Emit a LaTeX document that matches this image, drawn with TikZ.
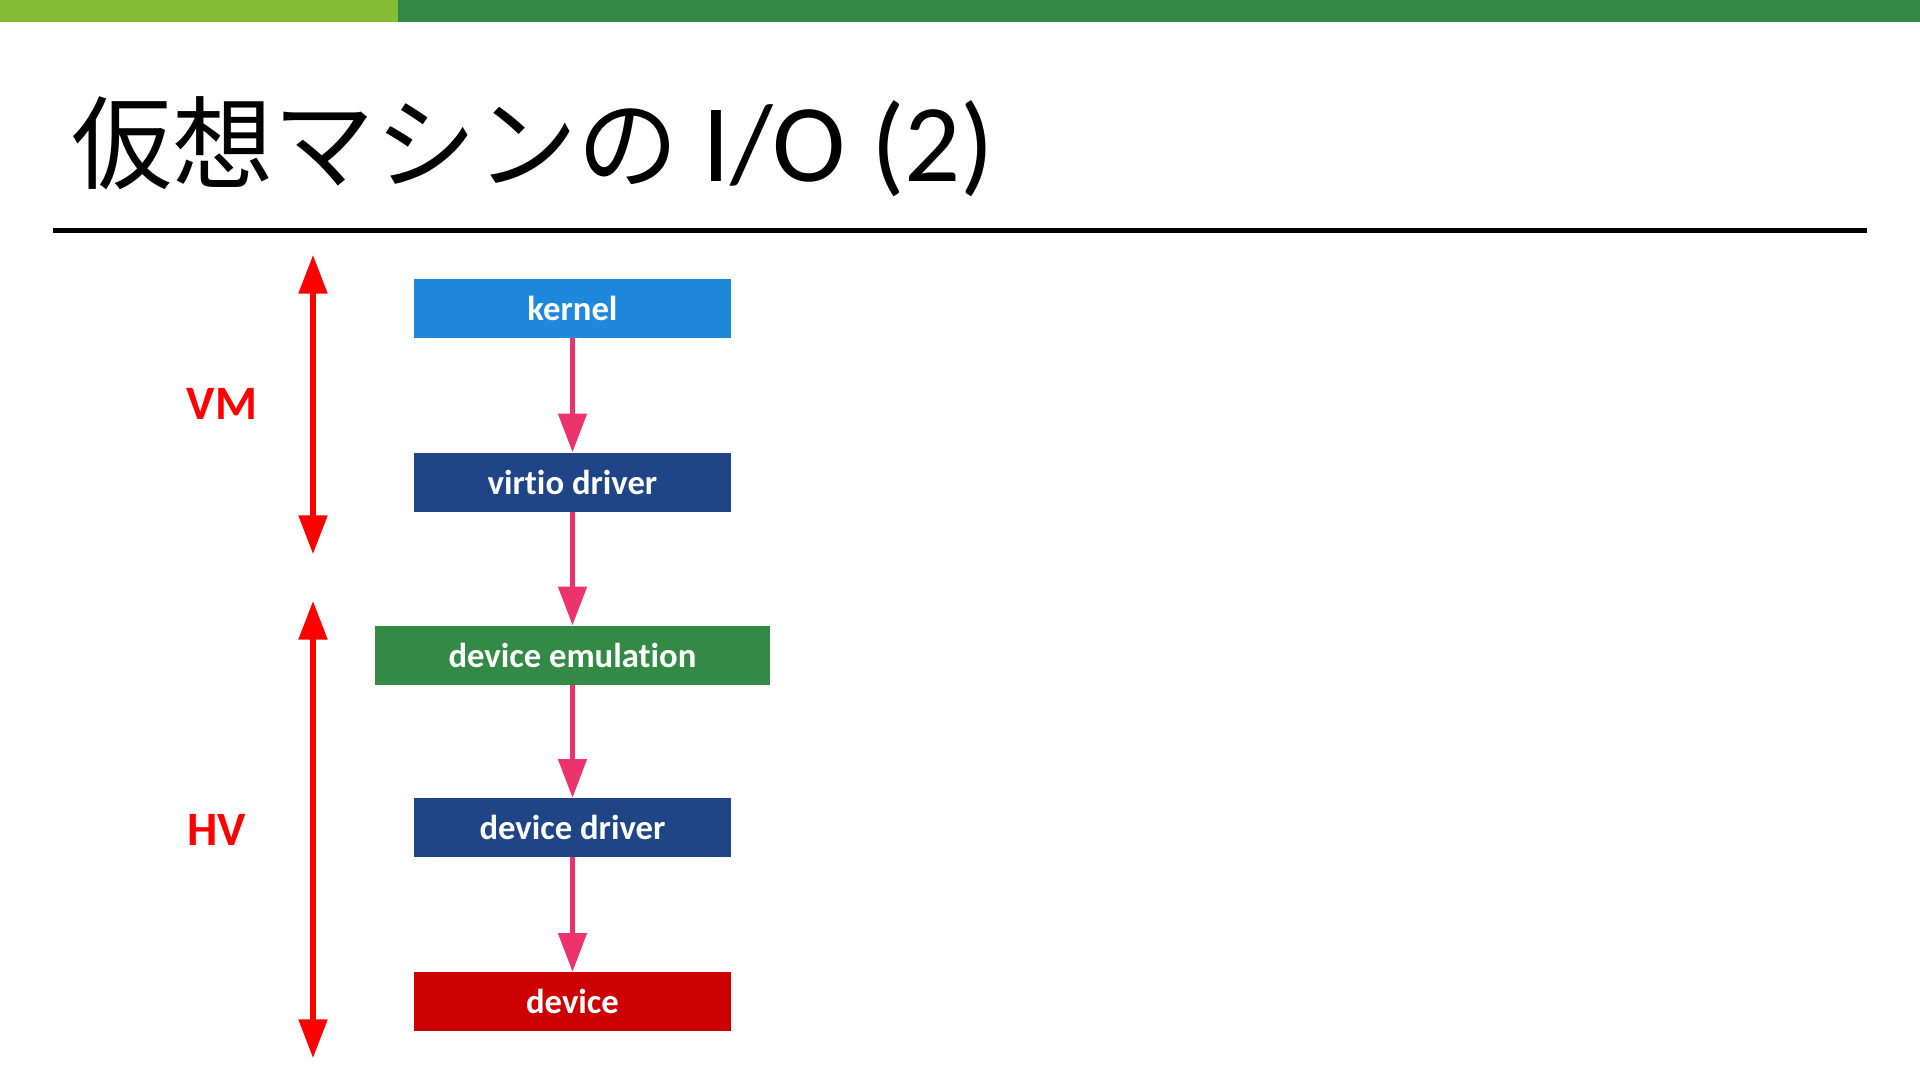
\documentclass[tikz,border=0pt]{standalone}
\usepackage{fontspec}
\usepackage{tikz}
\usetikzlibrary{arrows.meta,positioning}
\setmainfont[Ligatures={NoCommon}]{Carlito}
\newfontfamily\jpfont{Noto Sans CJK JP}

\definecolor{barlight}{RGB}{133,188,53}
\definecolor{bardark}{RGB}{51,138,69}
\definecolor{kernelblue}{RGB}{30,137,220}
\definecolor{drvnavy}{RGB}{31,69,135}
\definecolor{emugreen}{RGB}{51,138,69}
\definecolor{devred}{RGB}{204,0,0}
\definecolor{flowpink}{RGB}{236,51,110}
\definecolor{layerred}{RGB}{255,0,0}

\begin{document}
\begin{tikzpicture}[
    x=0.75pt, y=-0.75pt,
    box/.style={rectangle, inner sep=0pt, minimum width=237.75pt, minimum height=44.25pt,
                text=white, font=\fontsize{26}{30}\selectfont\bfseries},
    flow/.style={-{Triangle[width=21pt,length=29pt]}, flowpink, line width=3.5pt},
    layer/.style={{Triangle[width=21pt,length=29pt]}-{Triangle[width=21pt,length=29pt]}, layerred, line width=4pt},
    layerlabel/.style={text=layerred, font=\fontsize{36}{40}\selectfont\bfseries}
]
    \useasboundingbox (0,0) rectangle (1920,1081);
    \fill[white] (0,0) rectangle (1920,1081);

    % Header bar
    \fill[barlight] (0,0) rectangle (398,22);
    \fill[bardark] (398,0) rectangle (1920,22);

    % Title
    \node[anchor=base west, inner sep=0pt, font=\fontsize{76}{80}\selectfont] (title) at (71,181)
        {{\jpfont 仮想マシンの} {\fontsize{83}{86}\selectfont I/O (2)}};
    \draw[line width=3.75pt] (53,230) -- (1867,230);

    % Stack
    \node[box, fill=kernelblue] (kernel) at (572.5,308.5) {kernel};
    \node[box, fill=drvnavy] (virtio) at (572.5,482) {virtio driver};
    \node[box, fill=emugreen, minimum width=296.25pt] (emul) at (572.5,655) {device emulation};
    \node[box, fill=drvnavy] (drv) at (572.5,827.5) {device driver};
    \node[box, fill=devred] (dev) at (572.5,1001.5) {device};

    % Arrows
    \draw[flow] (kernel) -- (virtio);
    \draw[flow] (virtio) -- (emul);
    \draw[flow] (emul) -- (drv);
    \draw[flow] (drv) -- (dev);

    % Layers
    \coordinate (vmtop) at (313,255);
    \coordinate (vmbot) at (313,554);
    \coordinate (hvtop) at (313,601);
    \coordinate (hvbot) at (313,1058);
    \draw[layer] (vmtop) -- (vmbot);
    \draw[layer] (hvtop) -- (hvbot);
    \node[layerlabel] (vm) at (222,404) {VM};
    \node[layerlabel] (hv) at (217,830) {HV};

\end{tikzpicture}
\end{document}
